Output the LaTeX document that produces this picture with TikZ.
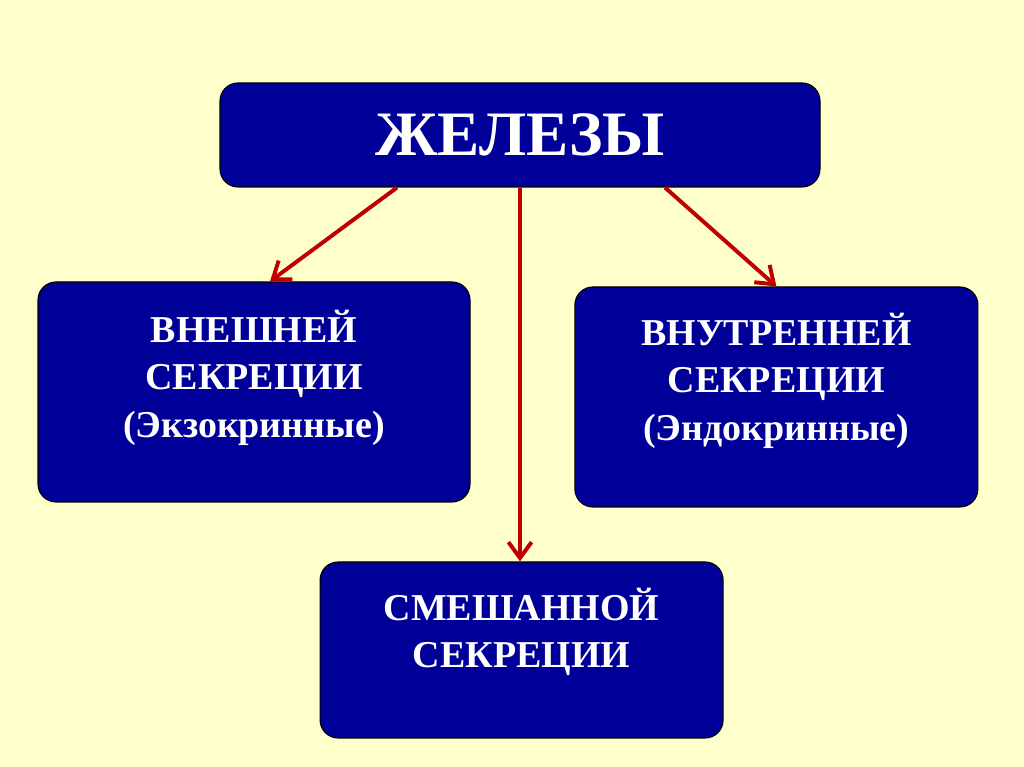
\documentclass[tikz,border=0pt]{standalone}
\usepackage{fontspec}
\setmainfont{Liberation Serif}
\usepackage{xcolor}
\usetikzlibrary{positioning,arrows.meta}

\definecolor{bgyellow}{HTML}{FFFFCC}
\definecolor{boxnavy}{HTML}{000099}
\definecolor{arrowred}{HTML}{C00000}

\begin{document}
\begin{tikzpicture}[
    box/.style={rectangle, rounded corners=0.45cm, draw=black, line width=0.8pt, fill=boxnavy},
    boxtext/.style={text=white, font=\bfseries\fontsize{27}{34}\selectfont, align=center, inner sep=0pt},
    arr/.style={draw=arrowred, line width=2.8pt, -{Straight Barb[length=4mm, width=5.8mm]}}
]
    \useasboundingbox (0,0) rectangle (25.6,19.175);
    \fill [bgyellow] (0,0) rectangle (25.6,19.175);

    \node [box, minimum width=15cm, minimum height=2.6cm] (glands) at (13,15.8) {};
    \node [box, minimum width=10.8cm, minimum height=5.5cm] (exo) at (6.35,9.375) {};
    \node [box, minimum width=10.075cm, minimum height=5.5cm] (endo) at (19.41,9.25) {};
    \node [box, minimum width=10.075cm, minimum height=4.4cm] (mixed) at (13.04,2.925) {};

    \node [text=white, font=\bfseries\fontsize{45}{54}\selectfont] (glandstext) at (glands) {ЖЕЛЕЗЫ};
    \node [boxtext, below=0.7cm of exo.north] (exotext) {ВНЕШНЕЙ\\СЕКРЕЦИИ\\(Экзокринные)};
    \node [boxtext, below=0.65cm of endo.north] (endotext) {ВНУТРЕННЕЙ\\СЕКРЕЦИИ\\(Эндокринные)};
    \node [boxtext, below=0.65cm of mixed.north] (mixedtext) {СМЕШАННОЙ\\СЕКРЕЦИИ};

    \draw [arr] ([xshift=-3.075cm]glands.south) -- ([xshift=0.4cm]exo.north);
    \draw [arr] (glands.south) -- (glands.south |- mixed.north);
    \draw [arr] ([xshift=3.625cm]glands.south) -- (endo.north);
\end{tikzpicture}
\end{document}
